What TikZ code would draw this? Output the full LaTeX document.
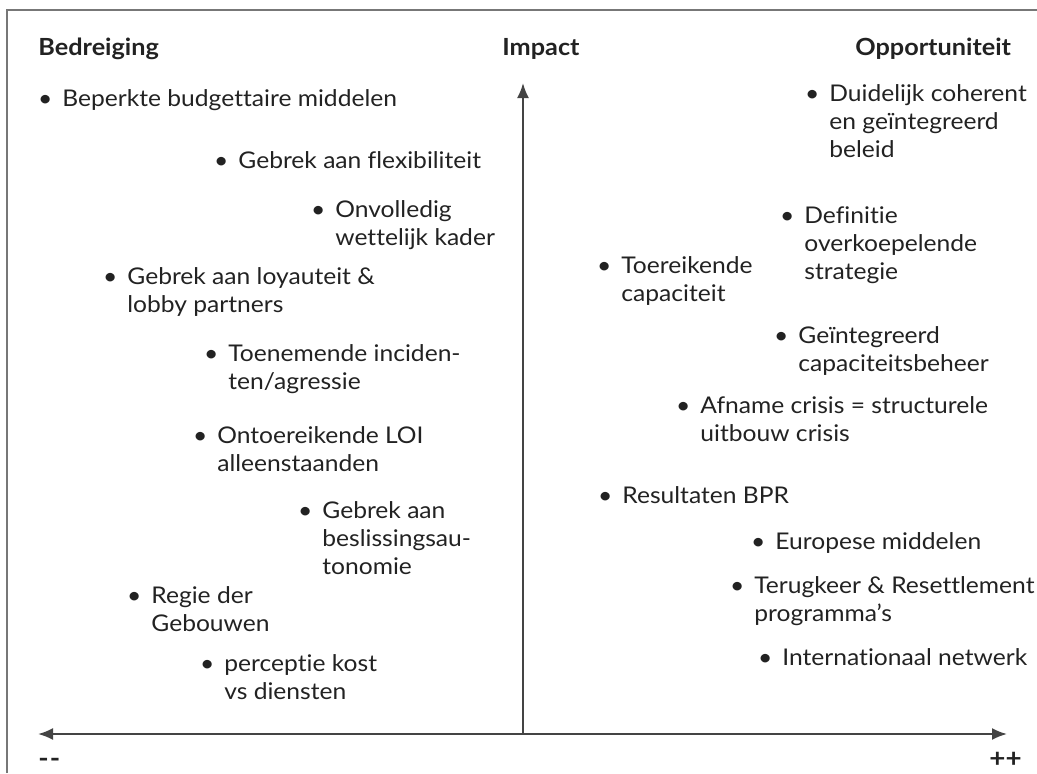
\documentclass[tikz,border=0pt]{standalone}
\usepackage{fontspec}
\setmainfont{Lato}[FakeStretch=1.07,RawFeature={-liga;-clig;-calt}]
\usetikzlibrary{arrows.meta}
\definecolor{txt}{HTML}{222222}
\definecolor{axis}{HTML}{444444}
\definecolor{frame}{HTML}{777777}
\newcommand{\itemfont}{\fontsize{11.5}{14}\selectfont}
\newcommand{\bul}{\llap{\textbullet\hspace{5pt}}}
\newcommand{\lines}[1]{\begin{tabular}[t]{@{}l@{}}#1\end{tabular}}
\begin{document}
\begin{tikzpicture}[x=0.5pt,y=-0.5pt,
  itemtext/.style={anchor=base west,inner sep=0pt,font=\itemfont,text=txt},
  titletext/.style={anchor=base west,inner sep=0pt,font=\fontsize{11.8}{14}\selectfont\bfseries,text=txt},
  signtext/.style={anchor=base west,inner sep=0pt,font=\fontsize{13}{15}\selectfont\bfseries,text=txt},
  axisline/.style={draw=axis,line width=1pt,-{Latex[length=7.5pt,width=6pt]}}]
\useasboundingbox (0,0) rectangle (1037,773);
\draw[frame,line width=0.8pt] (7,773) -- (7,10) -- (1037,10);
% titles
\node[titletext] (bed) at (38,55) {Bedreiging};
\node[titletext] (imp) at (502,55) {Impact};
\node[titletext] (opp) at (855,55) {Opportuniteit};
% axes
\coordinate (o) at (523,734);
\coordinate (top) at (523,83);
\coordinate (left) at (38,734);
\coordinate (right) at (1007,734);
\draw[axisline] (o) -- (top);
\draw[axisline] (o) -- (left);
\draw[axisline] (o) -- (right);
\node[signtext] (min) at (38,767) {-\kern0.5pt-};
\node[signtext] (plus) at (989,767) {++};
% left items
\node[itemtext] (b1) at (62,106) {\bul Beperkte budgettaire middelen};
\node[itemtext] (b2) at (238,168) {\bul Gebrek aan flexibiliteit};
\node[itemtext] (b3) at (335,217) {\bul\lines{Onvolledig\\wettelijk kader}};
\node[itemtext] (b4) at (127,284) {\bul\lines{Gebrek aan loyauteit \&\\lobby partners}};
\node[itemtext] (b5) at (228,361) {\bul\lines{Toenemende inciden-\\ten/agressie}};
\node[itemtext] (b6) at (217,443) {\bul\lines{Ontoereikende LOI\\alleenstaanden}};
\node[itemtext] (b7) at (322,518) {\bul\lines{Gebrek aan\\beslissingsau-\\tonomie}};
\node[itemtext] (b8) at (151,603) {\bul\lines{Regie der\\Gebouwen}};
\node[itemtext] (b9) at (224,671) {\bul\lines{perceptie kost\\vs diensten}};
% right items
\node[itemtext] (o1) at (829,101) {\bul\lines{Duidelijk coherent\\en geïntegreerd\\beleid}};
\node[itemtext] (o2) at (804,223) {\bul\lines{Definitie\\overkoepelende\\strategie}};
\node[itemtext] (o3) at (621,273) {\bul\lines{Toereikende\\capaciteit}};
\node[itemtext] (o4) at (798,343) {\bul\lines{Geïntegreerd\\capaciteitsbeheer}};
\node[itemtext] (o5) at (700,413) {\bul\lines{Afname crisis = structurele\\uitbouw crisis}};
\node[itemtext] (o6) at (622,503) {\bul Resultaten BPR};
\node[itemtext] (o7) at (775,549) {\bul Europese middelen};
\node[itemtext] (o8) at (754,593) {\bul\lines{Terugkeer \& Resettlement\\programma’s}};
\node[itemtext] (o9) at (782,665) {\bul Internationaal netwerk};
\end{tikzpicture}
\end{document}
